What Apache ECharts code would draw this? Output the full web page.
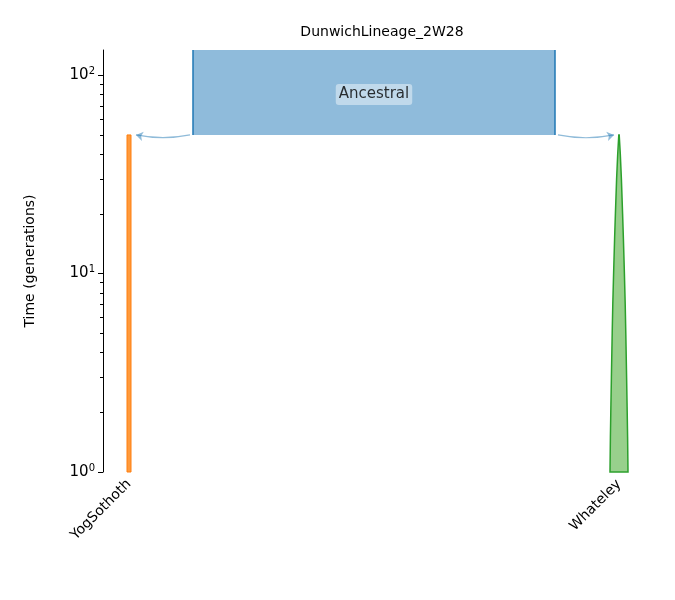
<!DOCTYPE html>
<html><head><meta charset="utf-8">
<script src="https://cdn.jsdelivr.net/npm/echarts@6/dist/echarts.min.js"></script>
<style>html,body{margin:0;padding:0;background:#fff}#c{width:675px;height:600px}</style>
</head><body><div id="c"></div>
<script>
const demes = ['YogSothoth', 'Whateley'];
const demeX = [26, 516];
const ancestralX = [90, 452];
const ancestralTimes = [50, 134];
const yogTimes = [1, 50];
const yogHalfWidth = 2;
const whateleyTimes = [1, 1.5, 2, 3, 5, 7, 10, 15, 20, 30, 40, 50];
const whateleyHalf = [9, 8.6, 8.2, 7.6, 6.8, 6.2, 5.4, 4.4, 3.6, 2.4, 1.3, 0.2];
const yTicks = [1, 10, 100];

const chart = echarts.init(document.getElementById('c'));
function polySeries(pointsFn, style, z) {
  return { type: 'custom', coordinateSystem: 'cartesian2d', z: z || 2, data: [0],
    renderItem: (p, api) => ({ type: 'polygon', shape: { points: pointsFn(api) }, style: style }) };
}
const wPts = api => {
  const L = whateleyTimes.map((t, i) => api.coord([demeX[1] - whateleyHalf[i], t]));
  const R = whateleyTimes.map((t, i) => api.coord([demeX[1] + whateleyHalf[i], t])).reverse();
  return L.concat(R);
};
chart.setOption({
  animation: false,
  title: { text: 'DunwichLineage_2W28', left: 377, top: 20, textAlign: 'center',
    textStyle: { fontFamily: 'DejaVu Sans', fontSize: 14, fontWeight: 'normal', color: '#000' } },
  grid: { left: 103, right: 0, top: 50, bottom: 128 },
  xAxis: { type: 'value', min: 0, max: 572, splitLine: { show: false },
    axisLine: { show: false }, axisTick: { show: false },
    axisLabel: { customValues: demeX, rotate: 45, margin: 10, fontFamily: 'DejaVu Sans', fontSize: 14, color: '#000',
      formatter: v => demes[demeX.indexOf(v)] || '' } },
  yAxis: { type: 'log', min: 1, max: 134, logBase: 10, splitLine: { show: false },
    name: 'Time (generations)', nameLocation: 'middle', nameGap: 66,
    nameTextStyle: { fontFamily: 'DejaVu Sans', fontSize: 14, color: '#000' },
    axisLine: { show: true, lineStyle: { color: '#000' } },
    axisTick: { show: true, length: 5, lineStyle: { color: '#000' }, customValues: yTicks },
    minorTick: { show: true, splitNumber: 9, length: 3, lineStyle: { color: '#000' } },
    axisLabel: { customValues: yTicks, fontFamily: 'DejaVu Sans', fontSize: 15, color: '#000',
      formatter: v => '10{s|' + Math.round(Math.log10(v)) + '}',
      rich: { s: { fontSize: 10, verticalAlign: 'top', padding: [0, 0, 8, 0], fontFamily: 'DejaVu Sans', color: '#000' } } } },
  series: [
    polySeries(api => [api.coord([ancestralX[0], ancestralTimes[0]]), api.coord([ancestralX[1], ancestralTimes[0]]),
      api.coord([ancestralX[1], ancestralTimes[1]]), api.coord([ancestralX[0], ancestralTimes[1]])],
      { fill: '#8fbbdb' }),
    { type: 'line', data: [[ancestralX[0], ancestralTimes[0]], [ancestralX[0], ancestralTimes[1]]], symbol: 'none',
      lineStyle: { color: '#1f77b4', width: 1.5 }, z: 3 },
    { type: 'line', data: [[ancestralX[1], ancestralTimes[0]], [ancestralX[1], ancestralTimes[1]]], symbol: 'none',
      lineStyle: { color: '#1f77b4', width: 1.5 }, z: 3 },
    polySeries(api => [api.coord([demeX[0] - yogHalfWidth, yogTimes[0]]), api.coord([demeX[0] + yogHalfWidth, yogTimes[0]]),
      api.coord([demeX[0] + yogHalfWidth, yogTimes[1]]), api.coord([demeX[0] - yogHalfWidth, yogTimes[1]])],
      { fill: '#ff9a3c', stroke: '#ff7f0e', lineWidth: 1 }),
    polySeries(wPts, { fill: '#98d08c', stroke: '#2ca02c', lineWidth: 1.5 }),
    { type: 'lines', coordinateSystem: 'cartesian2d', z: 4,
      symbol: ['none', 'arrow'], symbolSize: 7,
      lineStyle: { color: '#1f77b4', width: 1.2, curveness: 0.1 },
      data: [
        { coords: [[ancestralX[0] - 3, 50], [demeX[0] + 7, 50]] },
        { coords: [[ancestralX[1] + 3, 50], [demeX[1] - 5, 50]], lineStyle: { curveness: -0.1 } }
      ] },
    { type: 'scatter', data: [[(ancestralX[0] + ancestralX[1]) / 2, 80]], symbolSize: 0, z: 5,
      label: { show: true, formatter: 'Ancestral', position: 'inside', fontFamily: 'DejaVu Sans', fontSize: 15, color: '#000',
        backgroundColor: 'rgba(255,255,255,0.55)', padding: [3, 3], borderRadius: 3 } }
  ]
});
</script></body></html>
